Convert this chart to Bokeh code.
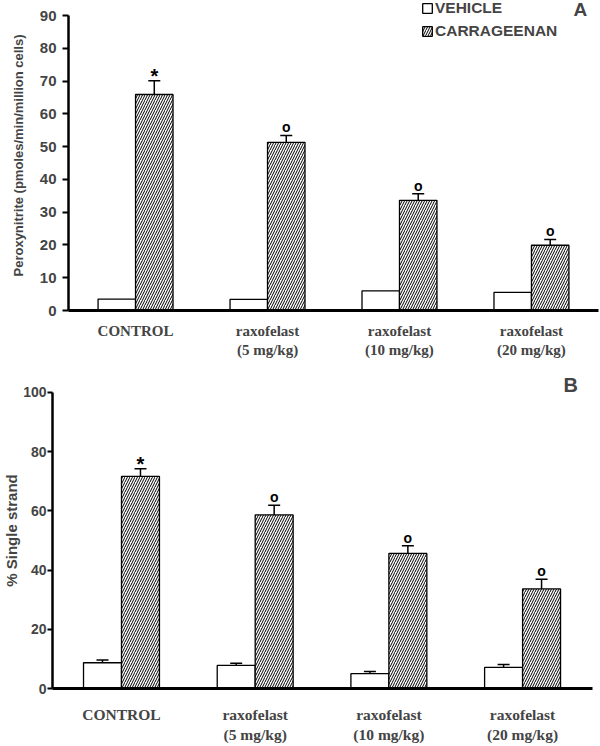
import math
import numpy as np
from bokeh.plotting import figure
from bokeh.models import (ColumnDataSource, Range1d, FixedTicker, Whisker, TeeHead,
                          Legend, LegendItem, Label)
from bokeh.layouts import column
from bokeh.embed import file_html
from bokeh.resources import INLINE

# ---------------- data ----------------
groups = ["CONTROL", "raxofelast\n(5 mg/kg)", "raxofelast\n(10 mg/kg)", "raxofelast\n(20 mg/kg)"]
series = ["VEHICLE", "CARRAGEENAN"]

a_vehicle = [3.5, 3.4, 6.0, 5.5]
a_vehicle_err = [0.0, 0.0, 0.0, 0.0]
a_carr = [65.9, 51.3, 33.6, 19.9]
a_carr_err = [4.2, 2.1, 2.0, 1.8]
a_sig = ["*", "o", "o", "o"]
a_yticks = [0, 10, 20, 30, 40, 50, 60, 70, 80, 90]

b_vehicle = [8.7, 7.8, 5.0, 7.1]
b_vehicle_err = [0.9, 0.7, 0.7, 1.0]
b_carr = [71.6, 58.6, 45.6, 33.6]
b_carr_err = [2.6, 3.3, 2.6, 3.3]
b_sig = ["*", "o", "o", "o"]
b_yticks = [0, 20, 40, 60, 80, 100]

SANS = "Liberation Sans"
SERIF = "Liberation Serif"
HALF = 0.142
BW = 0.284


def make_panel(vehicle, vehicle_err, carr, carr_err, sig, yticks, xr, ytop, height,
               mb_left, mb_right, mb_bottom, tick_font, x_font):
    idx = np.arange(len(groups))
    p = figure(width=600, height=height, x_range=Range1d(*xr),
               y_range=Range1d(yticks[0], ytop),
               output_backend="svg", toolbar_location=None,
               min_border_left=mb_left, min_border_right=mb_right,
               min_border_top=0, min_border_bottom=mb_bottom)
    try:
        p.frame_align = False
    except Exception:
        pass
    p.outline_line_color = None
    p.grid.visible = False
    p.background_fill_color = "white"
    p.border_fill_color = "white"

    src_v = ColumnDataSource(dict(x=idx - HALF, top=vehicle,
                                  lo=vehicle, hi=[v + e for v, e in zip(vehicle, vehicle_err)]))
    src_c = ColumnDataSource(dict(x=idx + HALF, top=carr,
                                  lo=carr, hi=[v + e for v, e in zip(carr, carr_err)],
                                  sig=sig,
                                  fs=["20px" if s == "*" else "14px" for s in sig],
                                  yo=[-5 if s == "*" else -8 for s in sig]))

    rv = p.vbar(x="x", top="top", bottom=0, width=BW, source=src_v,
                fill_color="white", line_color="black", line_width=1.3)
    rc = p.vbar(x="x", top="top", bottom=0, width=BW, source=src_c,
                fill_color="white", line_color="black", line_width=1.3,
                hatch_pattern="/", hatch_color="black", hatch_scale=5, hatch_weight=1)

    for src, errs in ((src_v, vehicle_err), (src_c, carr_err)):
        if max(errs) > 0:
            w = Whisker(source=src, base="x", lower="lo", upper="hi", dimension="height",
                        line_color="black", line_width=1.5, lower_head=None,
                        upper_head=TeeHead(size=12, line_color="black", line_width=1.5))
            p.add_layout(w)

    p.text(x="x", y="hi", text="sig", source=src_c, text_align="center",
           text_baseline="middle", text_font_size="fs", y_offset="yo",
           text_font={"value": SANS}, text_font_style="bold", text_color="black")

    ya = p.yaxis[0]
    ya.ticker = FixedTicker(ticks=yticks)
    ya.bounds = (yticks[0], yticks[-1])
    ya.axis_line_width = 2.5
    ya.major_tick_line_width = 2
    ya.major_tick_in = 0
    ya.major_tick_out = 6
    ya.minor_tick_line_color = None
    ya.major_label_text_font = SANS
    ya.major_label_text_font_style = "bold"
    ya.major_label_text_font_size = tick_font
    ya.major_label_standoff = 6

    xa = p.xaxis[0]
    xa.ticker = FixedTicker(ticks=list(idx))
    xa.major_label_overrides = {int(i): g for i, g in zip(idx, groups)}
    xa.axis_line_width = 3
    xa.major_tick_line_color = None
    xa.minor_tick_line_color = None
    xa.major_tick_out = 0
    xa.major_label_standoff = 12
    xa.major_label_text_font = SERIF
    xa.major_label_text_font_style = "bold"
    xa.major_label_text_font_size = x_font
    return p, rv, rc


pA, rvA, rcA = make_panel(a_vehicle, a_vehicle_err, a_carr, a_carr_err, a_sig, a_yticks,
                          (-0.508, 3.508), 94.58, 372, 68, 2, 62, "15px", "15px")
pA.yaxis[0].axis_label = "Peroxynitrite (pmoles/min/million cells)"
pA.yaxis[0].axis_label_text_font = SANS
pA.yaxis[0].axis_label_text_font_style = "bold"
pA.yaxis[0].axis_label_text_font_size = "13px"
pA.yaxis[0].axis_label_standoff = 11

legend = Legend(items=[LegendItem(label=series[0], renderers=[rvA]),
                       LegendItem(label=series[1], renderers=[rcA])],
                location=(353, 270), orientation="vertical",
                glyph_width=12, glyph_height=12, label_height=12, spacing=5,
                padding=0, margin=0, label_standoff=2,
                border_line_color=None, background_fill_alpha=0,
                label_text_font=SANS, label_text_font_style="bold",
                label_text_font_size="15.5px", label_text_baseline="middle")
pA.add_layout(legend)
pA.add_layout(Label(x=3.37, y=91.8, text="A", text_font=SANS, text_font_style="bold",
                    text_font_size="19px", text_align="center", text_baseline="middle"))

pB, rvB, rcB = make_panel(b_vehicle, b_vehicle_err, b_carr, b_carr_err, b_sig, b_yticks,
                          (-0.516, 3.523), 106.67, 373, 52, 8, 55, "14px", "15.5px")
pB.xaxis[0].major_label_standoff = 17
pB.yaxis[0].major_tick_out = 5
pB.yaxis[0].major_label_standoff = 1
pB.yaxis[0].axis_label = "% Single strand"
pB.yaxis[0].axis_label_text_font = SANS
pB.yaxis[0].axis_label_text_font_style = "bold"
pB.yaxis[0].axis_label_text_font_size = "15px"
pB.yaxis[0].axis_label_standoff = 0
pB.add_layout(Label(x=3.36, y=102.3, text="B", text_font=SANS, text_font_style="bold",
                    text_font_size="20px", text_align="center", text_baseline="middle"))

layout = column(pA, pB, spacing=0)
open("out.html", "w").write(file_html(layout, INLINE))
